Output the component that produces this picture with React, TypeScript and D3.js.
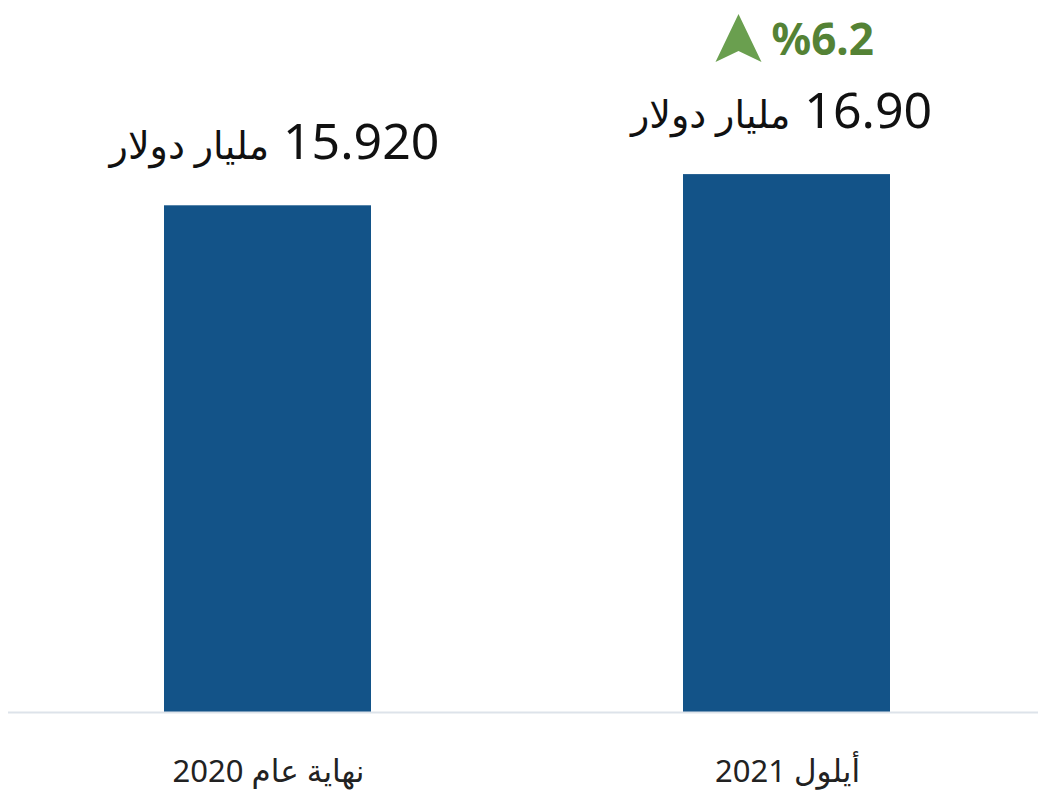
import React from "react";
import * as d3 from "d3";

const categories = ["نهاية عام 2020", "أيلول 2021"];
const values = [15.92, 16.9];
const valueLabels = ["15.920", "16.90"];
const unitLabel = "مليار دولار";
const changeLabel = "%6.2";

const W = 1038;
const H = 792;

export default function App() {
  const x = d3.scaleBand<string>().domain(categories).range([8, 1046]).paddingInner(0.6).paddingOuter(0.3);
  const y = d3.scaleLinear().domain([0, 22.37]).range([712, 0]);
  const bw = 207;
  const font = "'Noto Sans', 'DejaVu Sans', sans-serif";
  return (
    <svg width={W} height={H} style={{ position: "absolute", left: 0, top: 0, background: "#fff" }}>
      {categories.map((c, i) => {
        const cx = (x(c) as number) + x.bandwidth() / 2;
        const top = y(values[i]);
        return (
          <g key={c}>
            <rect x={cx - bw / 2} y={top} width={bw} height={y(0) - top} fill="#135388" />
            <text x={cx + 7 - i * 12} y={top - 46} textAnchor="middle" direction="rtl" fontFamily={font} fill="#111">
              <tspan fontSize={50}>{valueLabels[i]}</tspan>
              <tspan fontSize={38} dx={-4}>{" " + unitLabel}</tspan>
            </text>
            <text x={cx + 1} y={782} textAnchor="middle" direction="rtl" fontFamily={font} fontSize={31} fill="#222">
              {c}
            </text>
          </g>
        );
      })}
      <line x1={8} x2={1038} y1={712.5} y2={712.5} stroke="#dde3ea" strokeWidth={2} />
      {(() => {
        const cx = (x(categories[1]) as number) + x.bandwidth() / 2;
        const ax = cx - 48;
        return (
          <g>
            <path
              d={`M${ax},14 L${ax + 23},62 L${ax},51 L${ax - 23},62 Z`}
              fill="#6a9f4f"
            />
            <text x={cx - 15} y={55} fontFamily={font} fontWeight="bold" fontSize={44} fill="#548235">
              {changeLabel}
            </text>
          </g>
        );
      })()}
    </svg>
  );
}
